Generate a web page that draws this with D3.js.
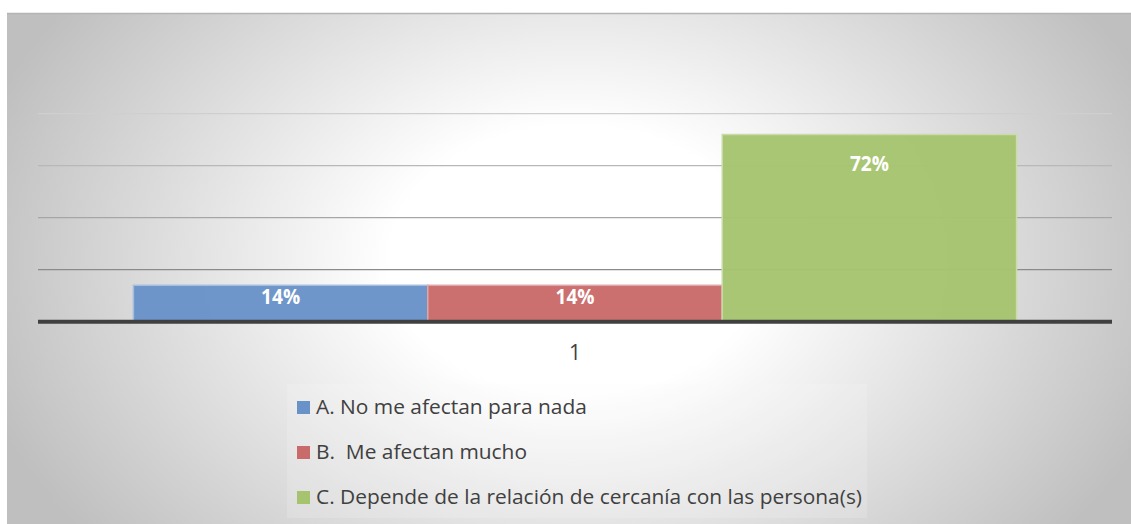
<!DOCTYPE html>
<html><head><meta charset="utf-8">
<script src="https://cdn.jsdelivr.net/npm/d3@7"></script>
<style>body{margin:0;background:#fff}svg{display:block}text{white-space:pre}</style>
</head><body>
<svg id="c" width="1131" height="524"></svg>
<script>
const categories = ["1"];
const seriesNames = ["A. No me afectan para nada", "B.  Me afectan mucho", "C. Depende de la relación de cercanía con las persona(s)"];
const seriesValues = [0.14, 0.14, 0.72];
const seriesColors = ["#6993c8", "#c96b6a", "#a6c46f"];
const yTicks = [0, 0.2, 0.4, 0.6, 0.8];

const svg = d3.select("#c");
const defs = svg.append("defs");
const rg = defs.append("radialGradient").attr("id","bg").attr("gradientUnits","userSpaceOnUse")
  .attr("cx",575).attr("cy",260).attr("r",620).attr("gradientTransform","translate(575,260) scale(1,0.72) translate(-575,-260)");
rg.append("stop").attr("offset","0").attr("stop-color","#ffffff");
rg.append("stop").attr("offset","0.3").attr("stop-color","#ffffff");
rg.append("stop").attr("offset","1").attr("stop-color","#bfbfbf");

svg.append("rect").attr("x",7).attr("y",13).attr("width",1124).attr("height",511).attr("fill","url(#bg)");
svg.append("line").attr("x1",7).attr("x2",1131).attr("y1",13.5).attr("y2",13.5).attr("stroke","#b4b4b4").attr("stroke-width",1.5);

const left = 38, right = 1112, base = 321.7;
const y = d3.scaleLinear().domain([0, 0.2]).range([base, 269.7]);
const x0 = d3.scaleBand().domain(categories).range([left, right]).paddingInner(0).paddingOuter(0.108);
const x1 = d3.scaleBand().domain(d3.range(seriesValues.length)).range([0, x0.bandwidth()]).padding(0);

const gridColors = ["#404040", "#8a8a8a", "#a6a6a6", "#b8b8b8", "#cfcfcf"];
svg.append("g").selectAll("line").data(yTicks.slice(1)).join("line")
  .attr("x1", left).attr("x2", right)
  .attr("y1", d => y(d)).attr("y2", d => y(d))
  .attr("stroke", (d,i) => gridColors[i+1]).attr("stroke-width", 1.3);

const g = svg.append("g");
const labels = [];
categories.forEach(cat => {
  seriesValues.forEach((v, i) => {
    const bx = x0(cat) + x1(i), bw = x1.bandwidth();
    g.append("rect").attr("x", bx).attr("y", y(v)).attr("width", bw).attr("height", base - y(v))
      .attr("fill", seriesColors[i]).attr("fill-opacity", 0.97)
      .attr("stroke", d3.interpolateRgb(seriesColors[i], "#ffffff")(0.4)).attr("stroke-width", 1.5);
    const off = Math.min(36, (base - y(v)) / 2);
    labels.push(g.append("text").attr("x", bx + bw/2).attr("y", y(v) + off)
      .attr("text-anchor","middle").attr("font-family","'Open Sans', sans-serif").attr("font-weight","bold")
      .attr("font-size",21).attr("fill","#fff").text(Math.round(v*100) + "%"));
  });
  svg.append("text").attr("x", x0(cat) + x0.bandwidth()/2).attr("y", 360).attr("text-anchor","middle")
    .attr("font-family","'Open Sans', sans-serif").attr("font-size",21).attr("fill","#404040").text(cat);
});
labels.forEach(t => {
  const w = t.node().getComputedTextLength();
  t.attr("textLength", w * 40/44).attr("lengthAdjust","spacingAndGlyphs");
});

svg.append("line").attr("x1", left).attr("x2", right).attr("y1", base).attr("y2", base)
  .attr("stroke", "#404040").attr("stroke-width", 4);

// legend
svg.append("rect").attr("x",287).attr("y",384).attr("width",580).attr("height",134).attr("fill","#fafafa").attr("fill-opacity",0.18);
const lg = svg.append("g");
const rowBase = [414, 459, 504];
const texts = [];
seriesNames.forEach((n, i) => {
  lg.append("rect").attr("x",297).attr("y",rowBase[i]-13).attr("width",13).attr("height",13).attr("fill",seriesColors[i]);
  texts.push(lg.append("text").attr("x",316).attr("y",rowBase[i]).attr("font-family","'Open Sans', sans-serif")
    .attr("font-size",20.5).attr("fill","#404040").text(n));
});
const ratio = 546 / texts[2].node().getComputedTextLength();
texts.forEach(t => {
  const w = t.node().getComputedTextLength();
  t.attr("textLength", w * ratio).attr("lengthAdjust","spacingAndGlyphs");
});
</script>
</body></html>
